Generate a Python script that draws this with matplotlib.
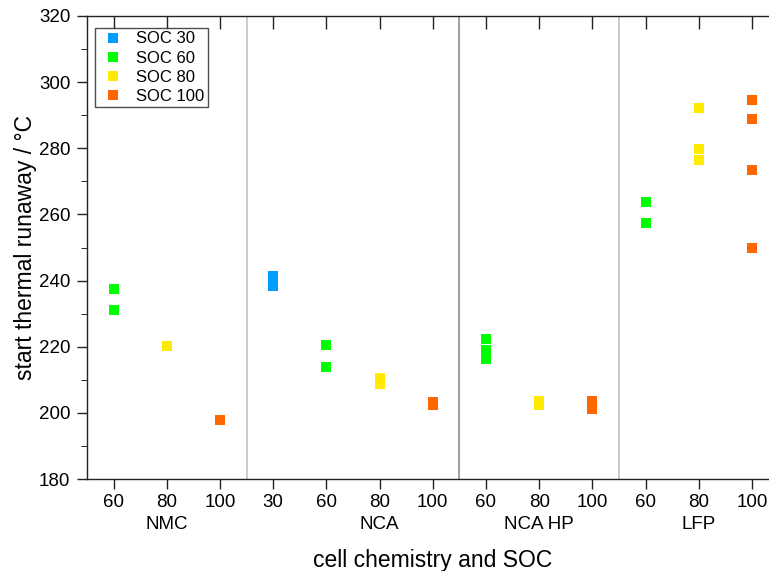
import matplotlib
matplotlib.use("Agg")
import matplotlib.pyplot as plt
from matplotlib.lines import Line2D
from matplotlib.ticker import MultipleLocator

plt.rcParams["font.family"] = ["Liberation Sans", "DejaVu Sans"]

# categories along x (group, SOC)
groups = ["NMC", "NCA", "NCA HP", "LFP"]
soc_labels = ["60", "80", "100", "30", "60", "80", "100", "60", "80", "100", "60", "80", "100"]
group_center = [1, 5, 8, 11]
separators = [2.5, 6.5, 9.5]
sep_colors = ["#c0c0c0", "#8c8c8c", "#c0c0c0"]

# measured start of thermal runaway, per SOC level: (x index, temperature)
soc30_x = [3, 3]
soc30_y = [241.5, 238.5]
soc60_x = [0, 0, 4, 4, 7, 7, 7, 10, 10]
soc60_y = [237.5, 231.0, 220.5, 214.0, 222.3, 219.0, 216.3, 263.8, 257.5]
soc80_x = [1, 5, 5, 8, 8, 11, 11, 11]
soc80_y = [220.2, 210.5, 208.7, 203.6, 202.4, 292.2, 279.8, 276.5]
soc100_x = [2, 6, 6, 9, 9, 12, 12, 12, 12]
soc100_y = [197.8, 203.2, 202.3, 203.6, 201.2, 294.6, 288.9, 273.4, 249.8]

series = [
    ("SOC 30", soc30_x, soc30_y, "#009fff"),
    ("SOC 60", soc60_x, soc60_y, "#00ff00"),
    ("SOC 80", soc80_x, soc80_y, "#ffea00"),
    ("SOC 100", soc100_x, soc100_y, "#ff6600"),
]

fig = plt.figure(figsize=(7.69, 5.71), dpi=100)
ax = fig.add_axes([87 / 769, 92 / 571, 691.6 / 769, 463 / 571])

for sx, c in zip(separators, sep_colors):
    ax.axvline(sx, color=c, lw=1.2, zorder=1)

handles = []
for name, xs, ys, col in series:
    ax.plot(xs, ys, ls="none", marker="s", ms=7.4, mew=0, color=col, zorder=3)
    handles.append(Line2D([], [], ls="none", marker="s", ms=7.4, mew=0, color=col, label=name))

ax.set_xlim(-0.5, 12.5)
ax.set_ylim(180, 320)
ax.set_xticks(range(len(soc_labels)))
ax.set_xticklabels(soc_labels)
ax.yaxis.set_major_locator(MultipleLocator(20))
ax.yaxis.set_minor_locator(MultipleLocator(10))
ax.tick_params(axis="both", labelsize=13.5, width=1, color="#222222")
ax.tick_params(axis="y", which="major", direction="out", length=7, pad=5)
ax.tick_params(axis="y", which="minor", direction="out", length=4)
ax.tick_params(axis="x", which="major", direction="out", length=7, pad=4, top=True)
ax.tick_params(axis="x", which="minor", bottom=False, top=False)

# top ticks point inward
for tl in ax.xaxis.get_major_ticks():
    tl.tick2line.set_marker(3)
    tl.tick2line.set_markersize(9)

for s in ax.spines.values():
    s.set_linewidth(1)
    s.set_color("#222222")

for gx, g in zip(group_center, groups):
    ax.text(gx, -0.099, g, transform=ax.get_xaxis_transform(),
            ha="center", va="center", fontsize=13.5)

ax.set_xlabel("cell chemistry and SOC", fontsize=16.5, va="center")
ax.xaxis.set_label_coords(0.5, -0.175)
ax.set_ylabel("start thermal runaway / °C", fontsize=16.5, va="center")
ax.yaxis.set_label_coords(-0.0896, 0.5)

leg = ax.legend(handles=handles, loc="upper left", bbox_to_anchor=(0.012, 0.974),
                borderaxespad=0, fontsize=12, frameon=True, fancybox=False,
                handlelength=1.75, handletextpad=0.5, labelspacing=0.25,
                borderpad=0.2)
leg.get_frame().set_edgecolor("#222222")
leg.get_frame().set_linewidth(1)

fig.savefig("out.png", dpi=100)
